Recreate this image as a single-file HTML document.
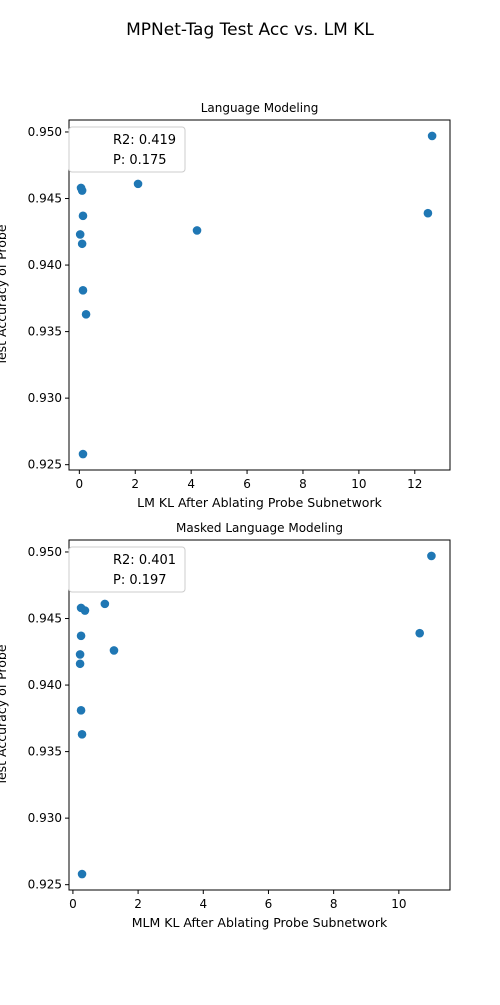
<!DOCTYPE html>
<html><head><meta charset="utf-8"><style>
body{margin:0;background:#fff;font-family:"Liberation Sans","DejaVu Sans",sans-serif}
</style></head><body>
<svg id="fig" width="500" height="1000" xmlns="http://www.w3.org/2000/svg" font-family="DejaVu Sans, Liberation Sans, sans-serif">
<rect width="500" height="1000" fill="#fff"/>
<text x="250" y="35" font-size="17" text-anchor="middle">MPNet-Tag Test Acc vs. LM KL</text>
</svg>
<script>
const acc = [0.9458,0.9456,0.9437,0.9423,0.9416,0.9381,0.9363,0.9258,0.9461,0.9426,0.9439,0.9497];
const lmKL = [0.06,0.10,0.13,0.03,0.10,0.13,0.24,0.13,2.1,4.21,12.47,12.62];
const mlmKL = [0.25,0.37,0.25,0.22,0.22,0.25,0.28,0.28,0.98,1.26,10.64,11.0];
const yTicks = [0.925,0.930,0.935,0.940,0.945,0.950];
const lmXTicks = [0,2,4,6,8,10,12];
const mlmXTicks = [0,2,4,6,8,10];
const stats = [["R2: 0.419","P: 0.175"],["R2: 0.401","P: 0.197"]];
const NS="http://www.w3.org/2000/svg", svg=document.getElementById('fig');
function mk(t,a,p){const e=document.createElementNS(NS,t);for(const k in a)e.setAttribute(k,a[k]);(p||svg).appendChild(e);return e;}
function panel(idx,top,xs,xmin,xmax,xt,title,xlabel){
  const L=69,R=450,T=top,B=top+350,ymin=0.9246,ymax=0.9509;
  const X=v=>L+(v-xmin)/(xmax-xmin)*(R-L), Y=v=>B-(v-ymin)/(ymax-ymin)*(B-T);
  const g=mk('g',{});
  
  
  const t=mk('text',{x:(L+R)/2,y:T-8,'font-size':12,'text-anchor':'middle'},g);t.textContent=title;
  
  
  xt.forEach(v=>{const x=X(v);mk('line',{x1:x,x2:x,y1:B,y2:B+4,stroke:'#000'},g);
    const l=mk('text',{x:x,y:B+18,'font-size':12,'text-anchor':'middle'},g);l.textContent=v;
    
    });
  yTicks.forEach(v=>{const y=Y(v);mk('line',{x1:L-4,x2:L,y1:y,y2:y,stroke:'#000'},g);
    const l=mk('text',{x:L-7,y:y+4,'font-size':12,'text-anchor':'end'},g);l.textContent=v.toFixed(3);
    
    });
  const xl=mk('text',{x:(L+R)/2,y:B+37,'font-size':12.5,'text-anchor':'middle'},g);xl.textContent=xlabel;
  
  
  const yl=mk('text',{x:0,y:0,'font-size':12.5,'text-anchor':'middle',transform:`translate(6,${(T+B)/2}) rotate(-90)`},g);yl.textContent='Test Accuracy of Probe';
  
  
  xs.forEach((v,i)=>{const c=mk('circle',{cx:X(v),cy:Y(acc[i]),r:4.3,fill:'#1f77b4'},g);
    
    });
  mk('rect',{x:L,y:T,width:R-L,height:B-T,fill:'none',stroke:'#000','stroke-width':1},g);
  const lg=mk('rect',{x:L,y:T+7,width:116,height:45,rx:3,fill:'#fff','fill-opacity':0.8,stroke:'#ccc'},g);
  
  
  stats[idx].forEach((s,k)=>{const e=mk('text',{x:113,y:T+24+k*20,'font-size':13},g);e.textContent=s;
    
    });
}
panel(0,120,lmKL,-0.37,13.26,lmXTicks,'Language Modeling','LM KL After Ablating Probe Subnetwork');
panel(1,540,mlmKL,-0.12,11.57,mlmXTicks,'Masked Language Modeling','MLM KL After Ablating Probe Subnetwork');
</script>
</body></html>
